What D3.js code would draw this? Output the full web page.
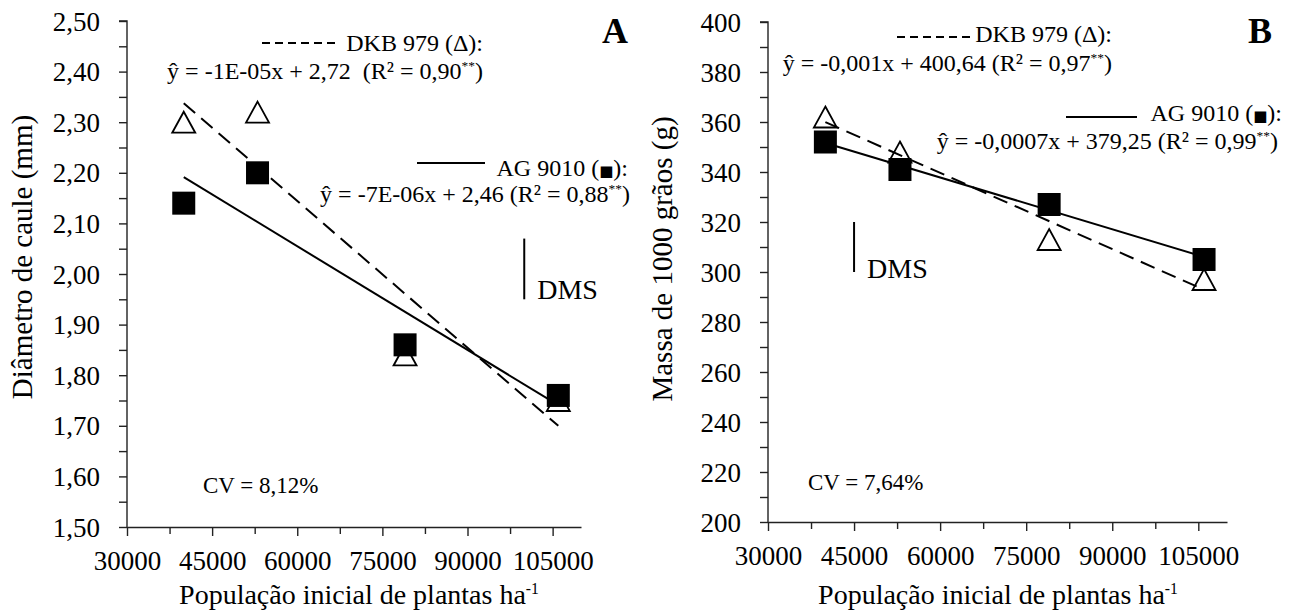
<!DOCTYPE html>
<html>
<head>
<meta charset="utf-8">
<script src="https://cdn.jsdelivr.net/npm/d3@7"></script>
<style>
  body { margin: 0; background: #fff; }
  svg { display: block; font-family: "Liberation Serif", "Times New Roman", serif; }
  text { white-space: pre; fill: #000; }
</style>
</head>
<body>
<svg id="chart" width="1290" height="613"></svg>
<script>
// Plant population (plants/ha) at which each hybrid was measured
const populacao = [40000, 53000, 79000, 106000];

// Panel A – stem diameter (mm)
const diametroDKB = [2.30, 2.32, 1.84, 1.75];
const diametroAG  = [2.14, 2.20, 1.86, 1.76];

// Panel B – 1000-grain mass (g)
const massaDKB = [362, 348, 313, 297];
const massaAG  = [352, 341, 327, 305];

// Axis ticks
const xDomain = [30000, 110000];
const xTicks  = [30000, 45000, 60000, 75000, 90000, 105000];
const xMinor  = [37500, 52500, 67500, 82500, 97500];
const yTicksA = [1.5, 1.6, 1.7, 1.8, 1.9, 2.0, 2.1, 2.2, 2.3, 2.4, 2.5];
const yMinorA = [1.55, 1.65, 1.75, 1.85, 1.95, 2.05, 2.15, 2.25, 2.35, 2.45];
const yTicksB = [200, 220, 240, 260, 280, 300, 320, 340, 360, 380, 400];
const yMinorB = [210, 230, 250, 270, 290, 310, 330, 350, 370, 390];

// Least significant difference bars: [population, low, high]
const dmsA = [100000, 1.95, 2.07];
const dmsB = [45000, 300, 320];

const ptBR = d3.formatLocale({ decimal: ",", thousands: ".", grouping: [3], currency: ["R$", ""] });
const SERIF = "\"Liberation Serif\", \"Times New Roman\", serif";

const svg = d3.select("#chart");

// ordinary least-squares line through the points
function fit(xs, ys) {
  const mx = d3.mean(xs), my = d3.mean(ys);
  const sxy = d3.sum(xs, (x, i) => (x - mx) * (ys[i] - my));
  const sxx = d3.sum(xs, x => (x - mx) * (x - mx));
  const b = sxy / sxx;
  return { b, a: my - b * mx };
}

// text built from pieces; a piece may be raised (superscript) or use its own font
function richText(g, x, y, parts, opts) {
  const t = g.append("text")
    .attr("x", x).attr("y", y)
    .attr("font-family", SERIF)
    .attr("font-size", opts.size)
    .attr("text-anchor", opts.anchor || "start");
  if (opts.weight) t.attr("font-weight", opts.weight);
  if (opts.rotate) t.attr("transform", `rotate(-90,${x},${y})`);
  parts.forEach(p => {
    const s = t.append("tspan").text(p.t);
    if (p.sup) s.attr("font-size", opts.size * 0.56).attr("dy", -opts.size * 0.36);
    if (p.down) s.attr("dy", opts.size * 0.36);
    if (p.small) s.attr("font-size", p.small).attr("font-family", "\"DejaVu Sans\", sans-serif");
  });
  return t;
}

function panel(cfg) {
  const g = svg.append("g");
  const x = d3.scaleLinear(xDomain, cfg.xRange);
  const y = d3.scaleLinear(cfg.yDomain, cfg.yRange);
  const x0 = cfg.xRange[0], y0 = cfg.yRange[0];

  // y axis
  const yAx = g.append("g").attr("transform", `translate(${x0},0)`)
    .call(d3.axisLeft(y).tickValues(cfg.yTicks).tickSize(8).tickPadding(19)
      .tickFormat(cfg.yFormat));
  g.append("g").attr("transform", `translate(${x0},0)`)
    .call(d3.axisLeft(y).tickValues(cfg.yMinor).tickSize(8).tickFormat(""))
    .select(".domain").remove();

  // x axis
  g.append("g").attr("transform", `translate(0,${y0})`)
    .call(d3.axisBottom(x).tickValues(xTicks).tickSize(9).tickPadding(15)
      .tickSizeOuter(0).tickFormat(d3.format("d")));
  g.append("g").attr("transform", `translate(0,${y0})`)
    .call(d3.axisBottom(x).tickValues(xMinor).tickSize(7).tickFormat(""))
    .select(".domain").remove();

  g.selectAll(".domain").attr("stroke", "#222").attr("stroke-width", 1.4);
  g.selectAll(".tick line").attr("stroke", "#222").attr("stroke-width", 1.4);
  g.selectAll(".tick text").attr("font-size", 27).attr("font-family", SERIF).attr("fill", "#000");
  yAx.selectAll(".tick text").attr("dy", "0.34em");
  yAx.select(".domain").attr("d", `M-8,${cfg.yRange[1]}H0V${y0}`);

  // markers: DKB 979 open triangles, AG 9010 filled squares
  const tri = (cx, cy) => `M${cx},${cy - 10.5}L${cx + 11.5},${cy + 10.5}L${cx - 11.5},${cy + 10.5}Z`;
  g.selectAll("path.dkb").data(populacao).join("path").attr("class", "dkb")
    .attr("d", (d, i) => tri(x(d), y(cfg.dkb[i])))
    .attr("fill", "#fff").attr("stroke", "#000").attr("stroke-width", 1.8);
  g.selectAll("rect.ag").data(populacao).join("rect").attr("class", "ag")
    .attr("x", d => x(d) - 11.5).attr("y", (d, i) => y(cfg.ag[i]) - 11.5)
    .attr("width", 23).attr("height", 23).attr("fill", "#000");

  // trend lines (least squares over the four populations)
  const xr = d3.extent(populacao);
  const fd = fit(populacao, cfg.dkb), fa = fit(populacao, cfg.ag);
  g.append("line")
    .attr("x1", x(xr[0])).attr("y1", y(fd.a + fd.b * xr[0]))
    .attr("x2", x(xr[1])).attr("y2", y(fd.a + fd.b * xr[1]))
    .attr("stroke", "#000").attr("stroke-width", 2).attr("stroke-dasharray", "15,8");
  g.append("line")
    .attr("x1", x(xr[0])).attr("y1", y(fa.a + fa.b * xr[0]))
    .attr("x2", x(xr[1])).attr("y2", y(fa.a + fa.b * xr[1]))
    .attr("stroke", "#000").attr("stroke-width", 2);

  // DMS bar
  g.append("line")
    .attr("x1", x(cfg.dms[0])).attr("x2", x(cfg.dms[0]))
    .attr("y1", y(cfg.dms[1])).attr("y2", y(cfg.dms[2]))
    .attr("stroke", "#000").attr("stroke-width", 2);
  richText(g, x(cfg.dms[0]) + 13, y(cfg.dms[1]) + cfg.dmsDy, [{ t: "DMS" }], { size: 28 });

  // legend keys
  const L = cfg.legend;
  g.append("line").attr("x1", L.dashX[0]).attr("x2", L.dashX[1]).attr("y1", L.dashY).attr("y2", L.dashY)
    .attr("stroke", "#000").attr("stroke-width", 2).attr("stroke-dasharray", "8,5");
  richText(g, L.dkbX, L.dkbY, [{ t: "DKB 979 (Δ):" }], { size: 24, anchor: "end" });
  richText(g, L.eq1X, L.eq1Y, [{ t: cfg.eq1 }, { t: "**", sup: true }, { t: ")", down: true }], { size: 24, anchor: "end" });
  g.append("line").attr("x1", L.solX[0]).attr("x2", L.solX[1]).attr("y1", L.solY).attr("y2", L.solY)
    .attr("stroke", "#000").attr("stroke-width", 2);
  richText(g, L.agX, L.agY, [{ t: "AG 9010 (" }, { t: "■", small: 15 }, { t: "):" }], { size: 24, anchor: "end" });
  richText(g, L.eq2X, L.eq2Y, [{ t: cfg.eq2 }, { t: "**", sup: true }, { t: ")", down: true }], { size: 24, anchor: "end" });

  // panel letter, CV
  richText(g, cfg.letterX, 43, [{ t: cfg.letter }], { size: 36, anchor: "end", weight: "bold" });
  richText(g, cfg.cv[0], cfg.cv[1], [{ t: cfg.cvText }], { size: 23 });

  // axis titles
  richText(g, cfg.xTitleX, 604, [{ t: "População inicial de plantas ha" }, { t: "-1", sup: true }],
    { size: 28, anchor: "middle" });
  richText(g, cfg.yTitle[0], cfg.yTitle[1], [{ t: cfg.yTitleText }], { size: 29, anchor: "middle", rotate: true });
}

panel({
  xRange: [127, 581], yDomain: [1.5, 2.5], yRange: [527, 21],
  yTicks: yTicksA, yMinor: yMinorA, yFormat: ptBR.format(".2f"),
  dkb: diametroDKB, ag: diametroAG, dms: dmsA, dmsDy: 0,
  eq1: "ŷ = -1E-05x + 2,72  (R² = 0,90",
  eq2: "ŷ = -7E-06x + 2,46 (R² = 0,88",
  legend: {
    dashX: [262, 335], dashY: 43, dkbX: 483, dkbY: 51, eq1X: 483, eq1Y: 79,
    solX: [417, 485], solY: 163, agX: 628, agY: 176, eq2X: 630, eq2Y: 202
  },
  letter: "A", letterX: 628, cv: [203, 493], cvText: "CV = 8,12%",
  xTitleX: 359, yTitle: [32, 257], yTitleText: "Diâmetro de caule (mm)"
});

panel({
  xRange: [768, 1227], yDomain: [200, 400], yRange: [522, 22],
  yTicks: yTicksB, yMinor: yMinorB, yFormat: d3.format("d"),
  dkb: massaDKB, ag: massaAG, dms: dmsB, dmsDy: 6,
  eq1: "ŷ = -0,001x + 400,64 (R² = 0,97",
  eq2: "ŷ = -0,0007x + 379,25 (R² = 0,99",
  legend: {
    dashX: [897, 972], dashY: 37, dkbX: 1112, dkbY: 42, eq1X: 1112, eq1Y: 71,
    solX: [1066, 1137], solY: 117, agX: 1282, agY: 121, eq2X: 1278, eq2Y: 149
  },
  letter: "B", letterX: 1272, cv: [808, 490], cvText: "CV = 7,64%",
  xTitleX: 998, yTitle: [672, 259], yTitleText: "Massa de 1000 grãos (g)"
});
</script>
</body>
</html>
